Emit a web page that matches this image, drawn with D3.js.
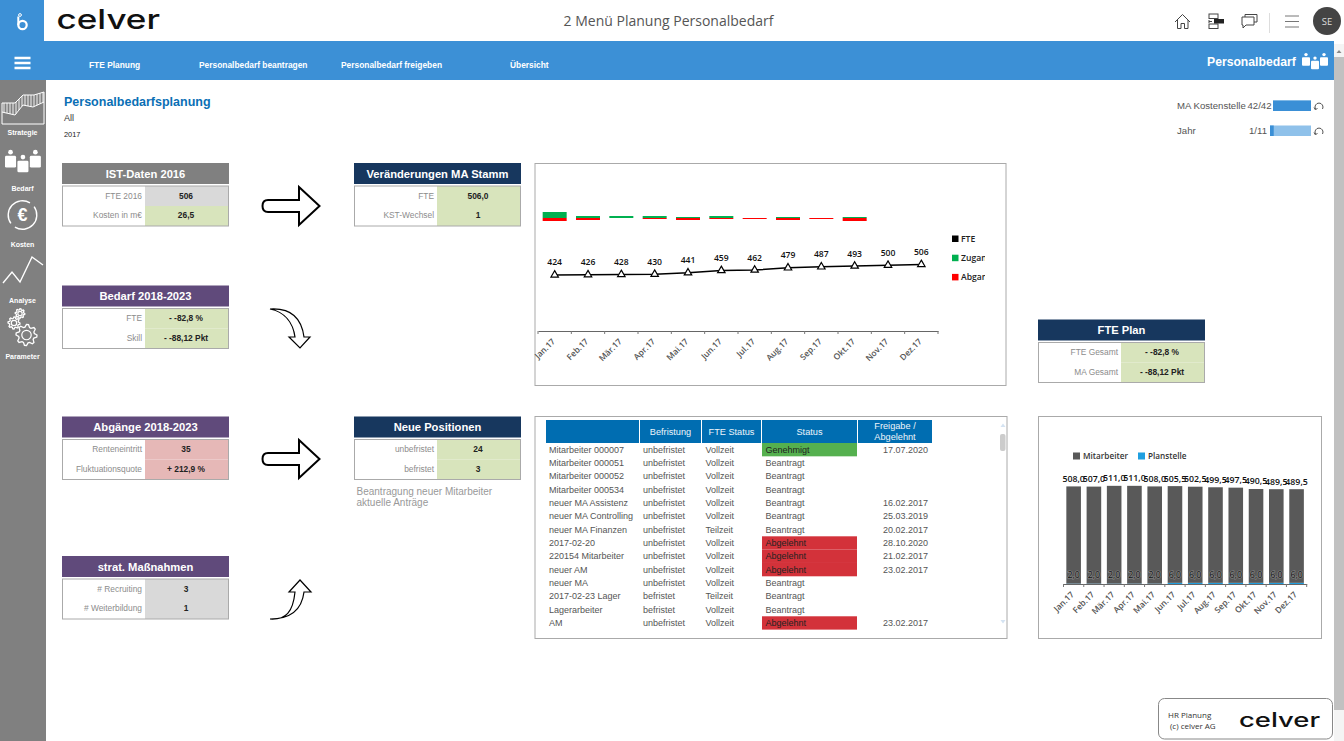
<!DOCTYPE html>
<html>
<head>
<meta charset="utf-8">
<script src="https://cdn.jsdelivr.net/npm/d3@7"></script>
<style>
  html, body { margin: 0; padding: 0; background: #fff; overflow: hidden; }
  svg { display: block; }
  text { font-family: "Liberation Sans", Arial, sans-serif; }
  .seg text, text.seg { font-family: "Open Sans", "Noto Sans", sans-serif; }
</style>
</head>
<body>
<svg id="page" width="1344" height="741"></svg>
<script>
// chart data
const months = ["Jan.17","Feb.17","Mär.17","Apr.17","Mai.17","Jun.17","Jul.17","Aug.17","Sep.17","Okt.17","Nov.17","Dez.17"];
const fte = [424,426,428,430,441,459,462,479,487,493,500,506];
const zugang = [6,2,2,2,1,2,0,1,0,1,0,0];
const abgang = [3,2,0,1,2,1,1,2,1,3,0,0];
const mitarbeiter = [508,507,511,511,508,505.5,502.5,499.5,497.5,490.5,489.5,489.5];
const planstelle = [2,2,2,2,2,6,6,6,6,6,6,6];

// table data
const tableHeader = ["", "Befristung", "FTE Status", "Status", "Freigabe /|Abgelehnt"];
const tableNames = ["Mitarbeiter 000007","Mitarbeiter 000051","Mitarbeiter 000052","Mitarbeiter 000534","neuer MA Assistenz","neuer MA Controlling","neuer MA Finanzen","2017-02-20","220154 Mitarbeiter","neuer AM","neuer MA","2017-02-23 Lager","Lagerarbeiter","AM"];
const tableBefristung = ["unbefristet","unbefristet","unbefristet","unbefristet","unbefristet","unbefristet","unbefristet","unbefristet","unbefristet","unbefristet","unbefristet","befristet","befristet","unbefristet"];
const tableFte = ["Vollzeit","Vollzeit","Vollzeit","Vollzeit","Vollzeit","Vollzeit","Teilzeit","Vollzeit","Vollzeit","Vollzeit","Vollzeit","Teilzeit","Vollzeit","Vollzeit"];
const tableStatus = ["Genehmigt","Beantragt","Beantragt","Beantragt","Beantragt","Beantragt","Beantragt","Abgelehnt","Abgelehnt","Abgelehnt","Beantragt","Beantragt","Beantragt","Abgelehnt"];
const tableDatum = ["17.07.2020","","","","16.02.2017","25.03.2019","20.02.2017","28.10.2020","21.02.2017","23.02.2017","","","","23.02.2017"];

// kpi cards
const cardTitles = ["IST-Daten 2016","Bedarf 2018-2023","Abgänge 2018-2023","strat. Maßnahmen","Veränderungen MA Stamm","Neue Positionen","FTE Plan"];
const cardLabels = [["FTE 2016","Kosten in m€"],["FTE","Skill"],["Renteneintritt","Fluktuationsquote"],["# Recruiting","# Weiterbildung"],["FTE","KST-Wechsel"],["unbefristet","befristet"],["FTE Gesamt","MA Gesamt"]];
const cardValues = [["506","26,5"],["- -82,8 %","- -88,12 Pkt"],["35","+ 212,9 %"],["3","1"],["506,0","1"],["24","3"],["- -82,8 %","- -88,12 Pkt"]];

const navItems = ["FTE Planung","Personalbedarf beantragen","Personalbedarf freigeben","Übersicht"];
const sideItems = ["Strategie","Bedarf","Kosten","Analyse","Parameter"];

const svg = d3.select("#page");

// ---- frame
svg.append("rect").attr("x",0).attr("y",41).attr("width",1334).attr("height",39).attr("fill","#3c90d6");
svg.append("rect").attr("x",0).attr("y",0).attr("width",44).attr("height",41).attr("fill","#3c90d6");
svg.append("rect").attr("x",0).attr("y",80).attr("width",46).attr("height",661).attr("fill","#808080");
svg.append("rect").attr("x",1334).attr("y",44).attr("width",10).attr("height",697).attr("fill","#f4f4f4");
svg.append("rect").attr("x",1334).attr("y",57).attr("width",10).attr("height",653).attr("fill","#c1c1c1");
svg.append("path").attr("d","M1336.5 53 L1339 50 L1341.5 53 Z").attr("fill","#888");

// b logo
svg.append("circle").attr("cx",22.5).attr("cy",25).attr("r",4.2).attr("fill","none").attr("stroke","#fff").attr("stroke-width",2.2);
svg.append("path").attr("d","M18.3 25V16.5").attr("stroke","#fff").attr("stroke-width",2).attr("fill","none");
svg.append("circle").attr("cx",20).attr("cy",15).attr("r",1.4).attr("fill","none").attr("stroke","#fff");

function celver(x, y, size, width) {
  svg.append("text").attr("x",x).attr("y",y).attr("fill","#111").attr("font-size",size)
    .attr("font-weight",500).style("font-family","Inter")
    .attr("textLength",width).attr("lengthAdjust","spacingAndGlyphs").text("celver");
}
celver(56.5, 29, 27, 103.5);

svg.append("text").attr("class","seg").attr("x",668.5).attr("y",26).attr("text-anchor","middle")
  .attr("font-size",14).attr("fill","#555").text("2 Menü Planung Personalbedarf");

// header icons
const ic = svg.append("g").attr("fill","none").attr("stroke","#444").attr("stroke-width",1);
ic.append("path").attr("d","M1175 22 L1182.5 14.5 L1190 22 M1177.5 20 V28.5 H1181 V23.5 H1184.5 V28.5 H1188 V20");
ic.append("rect").attr("x",1209).attr("y",14).attr("width",9).attr("height",4.5);
ic.append("rect").attr("x",1209).attr("y",24).attr("width",9).attr("height",4.5);
svg.append("rect").attr("x",1214).attr("y",19).attr("width",10).attr("height",4.5).attr("fill","#222");
ic.append("path").attr("d","M1209 21.5 H1212 M1209 20 V23");
ic.append("path").attr("d","M1242 17 H1254 V25 H1246 L1243 28 V25 H1242 Z");
ic.append("path").attr("d","M1245 17 V14.5 H1257 V22 H1254");
svg.append("rect").attr("x",1269).attr("y",13).attr("width",1).attr("height",20).attr("fill","#ddd");
ic.append("path").attr("d","M1285 16 H1299 M1285 21.5 H1299 M1285 27 H1299").attr("stroke","#777");
svg.append("circle").attr("cx",1327).attr("cy",21).attr("r",14).attr("fill","#444");
svg.append("text").attr("class","seg").attr("x",1327).attr("y",24.5).attr("text-anchor","middle").attr("font-size",9.5).attr("fill","#ddd").text("SE");

// hamburger
svg.append("path").attr("d","M14.5 58 H30.5 M14.5 63 H30.5 M14.5 68 H30.5").attr("stroke","#fff").attr("stroke-width",2.4);

const navX = [89,199,341,510];
svg.selectAll("text.nav").data(navItems).enter().append("text").attr("class","nav")
  .attr("x",(d,i)=>navX[i]).attr("y",68).attr("font-size",8.4).attr("font-weight","bold").attr("fill","#fff").text(d=>d);
svg.append("text").attr("x",1207).attr("y",65.5).attr("font-size",12.2).attr("font-weight","bold").attr("fill","#fff").text("Personalbedarf");

function people(x, y, k, color) {
  const g = svg.append("g").attr("transform",`translate(${x},${y}) scale(${k})`).attr("fill",color);
  [[0,0],[9,3.5],[18,0]].forEach(p => {
    g.append("circle").attr("cx",p[0]+4).attr("cy",p[1]+1.6).attr("r",1.7);
    g.append("rect").attr("x",p[0]).attr("y",p[1]+4.2).attr("width",8).attr("height",8.5).attr("rx",1);
  });
}
people(1302, 53, 1, "#fff");

// ---- sidebar
const sideY = [132,188,244,300,356];
svg.selectAll("text.side").data(sideItems).enter().append("text").attr("class","side")
  .attr("x",22.5).attr("y",(d,i)=>sideY[i]+3).attr("text-anchor","middle").attr("font-size",7).attr("font-weight","bold").attr("fill","#fff").text(d=>d);
const side = svg.append("g").attr("fill","none").attr("stroke","#fff").attr("stroke-width",1);
side.append("path").attr("d","M2 103 H15 L23 95 L34 95 L44 92 V124 H2 Z");
side.append("path").attr("d","M2 112 L15 115 L23 105 L33 107 L44 102");
d3.range(4,44,3).forEach(x => {
  const top = x < 15 ? 103 : (x < 23 ? 103 - (x - 15) : (x < 34 ? 95 : 95 - (x - 34) * 0.3));
  const bot = x < 15 ? 112 + (x - 2) * 0.23 : (x < 23 ? 115 - (x - 15) * 1.25 : (x < 33 ? 105 + (x - 23) * 0.2 : 107 - (x - 33) * 0.45));
  side.append("path").attr("d",`M${x} ${top} V${bot}`).attr("stroke-width",.9);
});
people(5, 150, 1.38, "#fff");
const ring = d3.arc().innerRadius(13.6).outerRadius(15);
svg.append("path").attr("transform","translate(22.5,215)").attr("fill","#fff").attr("d",ring({startAngle:-2.2,endAngle:0.55}));
svg.append("path").attr("transform","translate(22.5,215)").attr("fill","#fff").attr("d",ring({startAngle:0.95,endAngle:3.7}));
svg.append("text").attr("x",22.5).attr("y",221).attr("text-anchor","middle").attr("font-size",18).attr("font-weight","bold").attr("fill","#fff").text("€");
side.append("path").attr("d","M3 283 L12 272 L20 282 L32 257 L43 265").attr("stroke-width",1.4);

function gear(x, y, r, teeth) {
  const pts = [];
  for (let i = 0; i < teeth * 4; i++) {
    const a = i / (teeth * 4) * 2 * Math.PI;
    const rr = (i % 4 < 2) ? r : r * 0.76;
    pts.push([x + rr * Math.cos(a), y + rr * Math.sin(a)]);
  }
  side.append("path").attr("d", d3.line().curve(d3.curveLinearClosed)(pts)).attr("stroke-width",1.3);
  side.append("circle").attr("cx",x).attr("cy",y).attr("r",r*0.45).attr("stroke-width",1.2);
}
gear(20, 313.5, 4.8, 8);
gear(14, 323, 6, 8);
gear(26.5, 335, 10.5, 8);

// ---- titles
svg.append("text").attr("x",64).attr("y",106).attr("font-size",12.5).attr("font-weight","bold").attr("fill","#0a6fb5").text("Personalbedarfsplanung");
svg.append("text").attr("x",64).attr("y",121).attr("font-size",9).attr("fill","#333").text("All");
svg.append("text").attr("x",64).attr("y",137).attr("font-size",7.4).attr("fill","#222").text("2017");

// ---- filters
function filter(label, count, cx, y, fx, frac) {
  svg.append("text").attr("x",1177).attr("y",y+3).attr("font-size",9.6).attr("fill","#555").text(label);
  svg.append("text").attr("x",cx).attr("y",y+3).attr("text-anchor","end").attr("font-size",9.6).attr("fill","#555").text(count);
  svg.append("rect").attr("x",fx).attr("y",y-5.5).attr("width",1311-fx).attr("height",10.5).attr("fill","#8fc1ea");
  svg.append("rect").attr("x",fx).attr("y",y-5.5).attr("width",(1311-fx)*frac).attr("height",10.5).attr("fill","#3a8fd6");
  svg.append("path").attr("d",`M1315.5 ${y+3} A4 4 0 1 1 1322.5 ${y+3}`).attr("fill","none").attr("stroke","#555");
  svg.append("path").attr("d",`M1314 ${y+1.5} L1315.5 ${y+4} L1317.5 ${y+2}`).attr("fill","none").attr("stroke","#555");
}
filter("MA Kostenstelle", "42/42", 1271.5, 106, 1273, 1);
filter("Jahr", "1/11", 1267, 131, 1270, 1/11);

// ---- kpi cards
const GREY = "#d9d9d9", GREEN = "#d8e4bc", RED = "#e6b8b7";
const cardPos = [
  {x:62, y:163, color:"#808080", fill:[GREY,GREEN]},
  {x:62, y:285.5, color:"#604a7b", fill:[GREEN,GREEN]},
  {x:62, y:416.5, color:"#604a7b", fill:[RED,RED]},
  {x:62, y:556, color:"#604a7b", fill:[GREY,GREY]},
  {x:354, y:163, color:"#17375e", fill:[GREEN,GREEN]},
  {x:354, y:416.5, color:"#17375e", fill:[GREEN,GREEN]},
  {x:1038, y:319.5, color:"#17375e", fill:[GREEN,GREEN]}
];
cardPos.forEach((p, c) => {
  const g = svg.append("g").attr("transform",`translate(${p.x},${p.y})`);
  g.append("rect").attr("width",167).attr("height",21).attr("fill",p.color);
  g.append("text").attr("x",83.5).attr("y",14.6).attr("text-anchor","middle").attr("font-size",11.2).attr("font-weight","bold").attr("fill","#fff").text(cardTitles[c]);
  p.fill.forEach((f, i) => {
    g.append("rect").attr("x",83).attr("y",23+i*20).attr("width",84).attr("height",20).attr("fill",f);
    g.append("text").attr("x",80).attr("y",35.5+i*19.6).attr("text-anchor","end").attr("font-size",8.4).attr("fill","#8c8c8c").text(cardLabels[c][i]);
    g.append("text").attr("x",124).attr("y",35.5+i*19.6).attr("text-anchor","middle").attr("font-size",8.4).attr("font-weight","bold").attr("fill","#222").text(cardValues[c][i]);
  });
  g.append("rect").attr("x",.5).attr("y",23).attr("width",166).attr("height",40).attr("fill","none").attr("stroke","#aaa");
});
svg.append("text").attr("x",356.5).attr("y",495).attr("font-size",10).attr("fill","#999").text("Beantragung neuer Mitarbeiter");
svg.append("text").attr("x",356.5).attr("y",506).attr("font-size",10).attr("fill","#999").text("aktuelle Anträge");

// ---- arrows
const arrows = svg.append("g").attr("fill","#fff").attr("stroke","#000");
function blockArrow(y) {
  arrows.append("path").attr("stroke-width",2)
    .attr("d",`M299 ${y-19} L319.5 ${y} L299 ${y+19} V${y+6} H268 Q262.5 ${y+6} 262.5 ${y} Q262.5 ${y-6} 268 ${y-6} H299 Z`);
}
blockArrow(206);
blockArrow(459);
arrows.append("path").attr("stroke-width",1.2).attr("d","M270 309 C286 308 301 314 304 337 H310 L300 348 L289 337 H295 C293 323 285 312 270 309 Z");
arrows.append("path").attr("stroke-width",1.2).attr("d","M270 619 C286 620 293 612 295 592 H289 L300 580 L311 592 H304 C302 608 292 619 270 619 Z");

// ---- line chart with delta bars
svg.append("rect").attr("x",535).attr("y",163.5).attr("width",471).attr("height",222).attr("fill","#fff").attr("stroke","#aaa");
const chart1 = svg.append("g").attr("class","seg");
const x1 = d3.scaleBand().domain(months).range([538,938]).paddingInner(0.28).paddingOuter(0.14);
const yFte = d3.scaleLinear().domain([400,520]).range([278,262.6]);
const yDelta = d3.scaleLinear().domain([-10,10]).range([228,208]);
const mid1 = m => x1(m) + x1.bandwidth() / 2;

chart1.selectAll("rect.zu").data(months).enter().append("rect").attr("class","zu")
  .attr("x",d=>x1(d)).attr("width",x1.bandwidth())
  .attr("y",(d,i)=>yDelta(zugang[i])).attr("height",(d,i)=>yDelta(0)-yDelta(zugang[i])).attr("fill","#00b050");
chart1.selectAll("rect.ab").data(months).enter().append("rect").attr("class","ab")
  .attr("x",d=>x1(d)).attr("width",x1.bandwidth())
  .attr("y",yDelta(0)).attr("height",(d,i)=>yDelta(-abgang[i])-yDelta(0)).attr("fill","#ff0000");

chart1.append("path").datum(fte)
  .attr("d",d3.line().x((d,i)=>mid1(months[i])).y(d=>yFte(d)))
  .attr("fill","none").attr("stroke","#000").attr("stroke-width",1.5);
chart1.selectAll("path.tri").data(fte).enter().append("path").attr("class","tri")
  .attr("d",d3.symbol().type(d3.symbolTriangle).size(24))
  .attr("transform",(d,i)=>`translate(${mid1(months[i])},${yFte(d)})`)
  .attr("fill","#fff").attr("stroke","#000").attr("stroke-width",1.2);
chart1.selectAll("text.val").data(fte).enter().append("text").attr("class","val")
  .attr("x",(d,i)=>mid1(months[i])).attr("y",d=>yFte(d)-9.5).attr("text-anchor","middle")
  .attr("font-size",8.6).attr("font-weight",600).attr("fill","#111").text(d=>d);

function monthAxis(g, scale, y, size) {
  const ax = g.append("g").attr("transform",`translate(0,${y})`)
    .call(d3.axisBottom(scale).tickSize(0).tickPadding(0));
  ax.select(".domain").attr("stroke","#666");
  ax.selectAll("text").attr("text-anchor","end").attr("dy",0).attr("font-size",size).attr("font-weight",600).attr("fill","#555")
    .style("font-family",'"Open Sans"')
    .attr("transform",`translate(1,11) rotate(-45)`);
  const step = scale.step();
  const ticks = d3.range(0, months.length + 1).map(i => scale.range()[0] + i * step);
  g.selectAll(null).data(ticks).enter().append("line")
    .attr("x1",d=>d).attr("x2",d=>d).attr("y1",y).attr("y2",y+3).attr("stroke","#777");
}
monthAxis(chart1, x1, 331, 8.4);

// legend, cut off like in the dashboard
svg.append("clipPath").attr("id","legClip").append("rect").attr("x",950).attr("y",225).attr("width",35).attr("height",65);
const legend1 = chart1.append("g").attr("clip-path","url(#legClip)");
const legendNames1 = ["FTE","Zugang","Abgang"];
const legendColors1 = ["#000","#00b050","#ff0000"];
legendNames1.forEach((n, i) => {
  legend1.append("rect").attr("x",952).attr("y",235.5+i*19.2).attr("width",6.5).attr("height",6.5).attr("fill",legendColors1[i]);
  legend1.append("text").attr("x",961).attr("y",241.7+i*19.2).attr("font-size",8.6).attr("font-weight",600).attr("fill","#222").text(n);
});

// ---- table
svg.append("rect").attr("x",535).attr("y",416.5).attr("width",472).attr("height",222).attr("fill","#fff").attr("stroke","#aaa");
const colX = [546,640,702,762,858];
const colEnd = [639,701,761,857,932];
tableHeader.forEach((h, i) => {
  svg.append("rect").attr("x",colX[i]).attr("y",420).attr("width",colEnd[i]-colX[i]).attr("height",23).attr("fill","#006db1");
  const lines = h.split("|");
  lines.forEach((l, k) => {
    svg.append("text").attr("x",(colX[i]+colEnd[i])/2).attr("y",434.5+(k-(lines.length-1)/2)*10.5)
      .attr("text-anchor","middle").attr("font-size",9.2).attr("fill","#eef5fb").text(l);
  });
});
const rowY = d3.scaleBand().domain(d3.range(tableNames.length)).range([443,443+14*13.33]);
const statusFill = {Genehmigt:"#55b04f", Abgelehnt:"#d3323a"};
svg.selectAll("rect.st").data(tableStatus).enter().append("rect").attr("class","st")
  .attr("x",762).attr("width",95).attr("y",(d,i)=>rowY(i)).attr("height",rowY.bandwidth())
  .attr("fill",d=>statusFill[d]||"none");
const tableCols = [[tableNames,549],[tableBefristung,643],[tableFte,705.5],[tableStatus,765.5]];
tableCols.forEach(col => {
  svg.selectAll(null).data(col[0]).enter().append("text")
    .attr("x",col[1]).attr("y",(d,i)=>rowY(i)+9.8).attr("font-size",9)
    .attr("fill",d=>statusFill[d]?"#222":"#555").text(d=>d);
});
svg.selectAll(null).data(tableDatum).enter().append("text")
  .attr("x",928).attr("y",(d,i)=>rowY(i)+9.8).attr("text-anchor","end").attr("font-size",9).attr("fill","#555").text(d=>d);
// table scroll bar
svg.append("rect").attr("x",1000).attr("y",434).attr("width",5.5).attr("height",17).attr("rx",2).attr("fill","#ccc");
svg.append("path").attr("d","M1000.5 427 L1003 423.5 L1005.5 427 Z").attr("fill","#d4e3f2");
svg.append("path").attr("d","M1000.5 620 L1003 623.5 L1005.5 620 Z").attr("fill","#d4e3f2");

// ---- stacked bars
svg.append("rect").attr("x",1038.5).attr("y",416.5).attr("width",283).attr("height",222).attr("fill","#fff").attr("stroke","#aaa");
const chart2 = svg.append("g").attr("class","seg");
const x2 = d3.scaleBand().domain(months).range([1063.5,1306.7]).paddingInner(0.28).paddingOuter(0.14);
const y2 = d3.scaleLinear().domain([0,520]).range([584,484.5]);
const stackRows = months.map((m,i) => ({month:m, Planstelle:planstelle[i], Mitarbeiter:mitarbeiter[i]}));
const series2 = d3.stack().keys(["Planstelle","Mitarbeiter"])(stackRows);
const colors2 = {Planstelle:"#1f9fe0", Mitarbeiter:"#595959"};
series2.forEach(s => {
  chart2.selectAll(null).data(s).enter().append("rect")
    .attr("x",d=>x2(d.data.month)).attr("width",x2.bandwidth())
    .attr("y",d=>y2(d[1])).attr("height",d=>y2(d[0])-y2(d[1]))
    .attr("fill",colors2[s.key]);
});
const comma = v => v.toFixed(1).replace(".",",");
chart2.selectAll(null).data(stackRows).enter().append("text")
  .attr("x",d=>x2(d.month)+x2.bandwidth()/2).attr("y",d=>y2(d.Planstelle+d.Mitarbeiter)-4.5)
  .attr("text-anchor","middle").attr("font-size",8.8).attr("font-weight",600).attr("fill","#111").text(d=>comma(d.Mitarbeiter));
chart2.selectAll(null).data(stackRows).enter().append("text")
  .attr("x",d=>x2(d.month)+x2.bandwidth()/2).attr("y",577.5)
  .attr("text-anchor","middle").attr("font-size",8.8).attr("fill","#111")
  .attr("stroke","#8a8a8a").attr("stroke-width",1.2).attr("paint-order","stroke").text(d=>comma(d.Planstelle));
monthAxis(chart2, x2, 584, 8.4);
[["Mitarbeiter",1073,"#595959",1083],["Planstelle",1138,"#1f9fe0",1148]].forEach(l => {
  chart2.append("rect").attr("x",l[1]).attr("y",452.5).attr("width",7).attr("height",7).attr("fill",l[2]);
  chart2.append("text").attr("x",l[3]).attr("y",459).attr("font-size",8.2).attr("font-weight",600).attr("fill","#333").text(l[0]);
});

// ---- footer
svg.append("rect").attr("x",1158.5).attr("y",698.5).attr("width",174).attr("height",40.5).attr("rx",6).attr("fill","#fff").attr("stroke","#888");
svg.append("text").attr("class","seg").attr("x",1168).attr("y",718).attr("font-size",8).attr("fill","#333").text("HR Planung");
svg.append("text").attr("class","seg").attr("x",1170).attr("y",728.5).attr("font-size",8).attr("fill","#333").text("(c) celver AG");
celver(1239, 727, 19.5, 81);
</script>
</body>
</html>
